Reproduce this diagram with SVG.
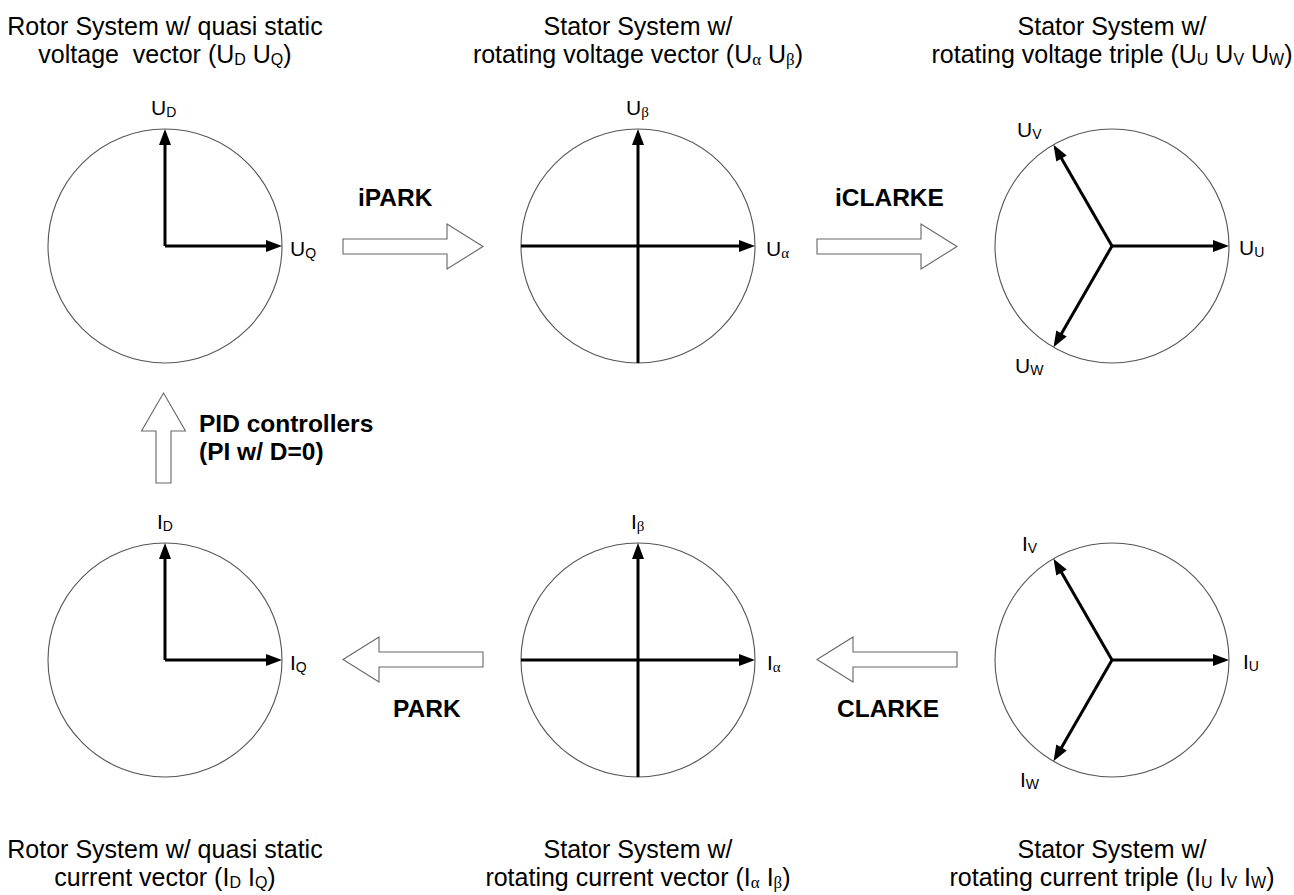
<svg xmlns="http://www.w3.org/2000/svg" width="1294" height="895" viewBox="0 0 1294 895">
<style>
text{font-family:"Liberation Sans",Arial,sans-serif;fill:#000;white-space:pre}
.title{font-size:25px;text-anchor:middle}
.ts{font-size:16px}
.tg{font-size:17px;font-family:"Liberation Serif","DejaVu Serif",serif}
.ax{font-size:21px}
.as{font-size:14px}
.ag{font-size:15px;font-family:"Liberation Serif","DejaVu Serif",serif}
.bold{font-size:24.5px;font-weight:bold}
.circ{fill:#fff;stroke:#555;stroke-width:1.1}
.vec{stroke:#000;stroke-width:3;fill:none;marker-end:url(#ah)}
.hollow{fill:#fff;stroke:#666;stroke-width:1.1;stroke-linejoin:miter}
</style>
<defs>
<marker id="ah" markerUnits="userSpaceOnUse" markerWidth="18" markerHeight="14" refX="8" refY="6" orient="auto" overflow="visible">
<path d="M0,0 L16,6 L0,12 Z" fill="#000"/>
</marker>
</defs>
<rect width="1294" height="895" fill="#fff"/>

<!-- Top row -->
<g id="rotor-voltage">
<text class="title" x="165" y="34.5">Rotor System w/ quasi static</text>
<text class="title" x="165" y="62.5">voltage  vector (U<tspan class="ts" dy="2">D</tspan><tspan dy="-2"> U</tspan><tspan class="ts" dy="2">Q</tspan><tspan dy="-2">)</tspan></text>
<circle class="circ" cx="165" cy="246" r="117"/>
<line class="vec" x1="165" y1="246" x2="165" y2="137"/>
<line class="vec" x1="165" y1="246" x2="274" y2="246"/>
<text class="ax" x="151" y="115">U<tspan class="as" dy="2">D</tspan></text>
<text class="ax" x="290" y="256">U<tspan class="as" dy="2">Q</tspan></text>
</g>

<g id="stator-voltage-vector">
<text class="title" x="638" y="34.5">Stator System w/</text>
<text class="title" x="638" y="62.5">rotating voltage vector (U<tspan class="tg" dy="2">α</tspan><tspan dy="-2"> U</tspan><tspan class="tg" dy="2">β</tspan><tspan dy="-2">)</tspan></text>
<circle class="circ" cx="638" cy="246" r="117"/>
<line class="vec" x1="638" y1="363" x2="638" y2="137"/>
<line class="vec" x1="521" y1="246" x2="747" y2="246"/>
<text class="ax" x="626" y="115">U<tspan class="ag" dy="2">β</tspan></text>
<text class="ax" x="766" y="256">U<tspan class="ag" dy="2">α</tspan></text>
</g>

<g id="stator-voltage-triple">
<text class="title" x="1112" y="34.5">Stator System w/</text>
<text class="title" x="1112" y="62.5">rotating voltage triple (U<tspan class="ts" dy="2">U</tspan><tspan dy="-2"> U</tspan><tspan class="ts" dy="2">V</tspan><tspan dy="-2"> U</tspan><tspan class="ts" dy="2">W</tspan><tspan dy="-2">)</tspan></text>
<circle class="circ" cx="1112" cy="246" r="117"/>
<line class="vec" x1="1112" y1="246" x2="1221" y2="246"/>
<line class="vec" x1="1112" y1="246" x2="1057.5" y2="151.6"/>
<line class="vec" x1="1112" y1="246" x2="1057.5" y2="340.4"/>
<text class="ax" x="1017" y="137">U<tspan class="as" dy="2">V</tspan></text>
<text class="ax" x="1239" y="255">U<tspan class="as" dy="2">U</tspan></text>
<text class="ax" x="1015" y="373">U<tspan class="as" dy="2">W</tspan></text>
</g>

<!-- Bottom row -->
<g id="rotor-current">
<circle class="circ" cx="165" cy="660" r="117"/>
<line class="vec" x1="165" y1="660" x2="165" y2="551"/>
<line class="vec" x1="165" y1="660" x2="274" y2="660"/>
<text class="ax" x="157" y="529">I<tspan class="as" dy="2">D</tspan></text>
<text class="ax" x="290" y="670">I<tspan class="as" dy="2">Q</tspan></text>
<text class="title" x="165" y="858">Rotor System w/ quasi static</text>
<text class="title" x="165" y="886">current vector (I<tspan class="ts" dy="2">D</tspan><tspan dy="-2"> I</tspan><tspan class="ts" dy="2">Q</tspan><tspan dy="-2">)</tspan></text>
</g>

<g id="stator-current-vector">
<circle class="circ" cx="638" cy="660" r="117"/>
<line class="vec" x1="638" y1="777" x2="638" y2="551"/>
<line class="vec" x1="521" y1="660" x2="747" y2="660"/>
<text class="ax" x="631" y="529">I<tspan class="ag" dy="2">β</tspan></text>
<text class="ax" x="767" y="670">I<tspan class="ag" dy="2">α</tspan></text>
<text class="title" x="638" y="858">Stator System w/</text>
<text class="title" x="638" y="886">rotating current vector (I<tspan class="tg" dy="2">α</tspan><tspan dy="-2"> I</tspan><tspan class="tg" dy="2">β</tspan><tspan dy="-2">)</tspan></text>
</g>

<g id="stator-current-triple">
<circle class="circ" cx="1112" cy="660" r="117"/>
<line class="vec" x1="1112" y1="660" x2="1221" y2="660"/>
<line class="vec" x1="1112" y1="660" x2="1057.5" y2="565.6"/>
<line class="vec" x1="1112" y1="660" x2="1057.5" y2="754.4"/>
<text class="ax" x="1022" y="551">I<tspan class="as" dy="2">V</tspan></text>
<text class="ax" x="1243" y="669">I<tspan class="as" dy="2">U</tspan></text>
<text class="ax" x="1020" y="787">I<tspan class="as" dy="2">W</tspan></text>
<text class="title" x="1112" y="858">Stator System w/</text>
<text class="title" x="1112" y="886">rotating current triple (I<tspan class="ts" dy="2">U</tspan><tspan dy="-2"> I</tspan><tspan class="ts" dy="2">V</tspan><tspan dy="-2"> I</tspan><tspan class="ts" dy="2">W</tspan><tspan dy="-2">)</tspan></text>
</g>

<!-- Connectors (hollow transform arrows) -->
<g id="connectors">
<g id="ipark">
<path class="hollow" d="M343,239 H447 V224 L483,246.5 L447,269 V254 H343 Z"/>
<text class="bold" x="358" y="206">iPARK</text>
</g>
<g id="iclarke">
<path class="hollow" d="M817,239 H921 V224 L957,246.5 L921,269 V254 H817 Z"/>
<text class="bold" x="835" y="206">iCLARKE</text>
</g>
<g id="park">
<path class="hollow" d="M483,652 H379 V637 L343,659.5 L379,682 V667 H483 Z"/>
<text class="bold" x="393" y="717">PARK</text>
</g>
<g id="clarke">
<path class="hollow" d="M957,652 H853 V637 L817,659.5 L853,682 V667 H957 Z"/>
<text class="bold" x="837" y="717">CLARKE</text>
</g>
<g id="pid">
<path class="hollow" d="M156,483 V431 H141.5 L163.5,393 L185.5,431 H171 V483 Z"/>
<text class="bold" x="199" y="432">PID controllers</text>
<text class="bold" x="199" y="460">(PI w/ D=0)</text>
</g>
</g>
</svg>
